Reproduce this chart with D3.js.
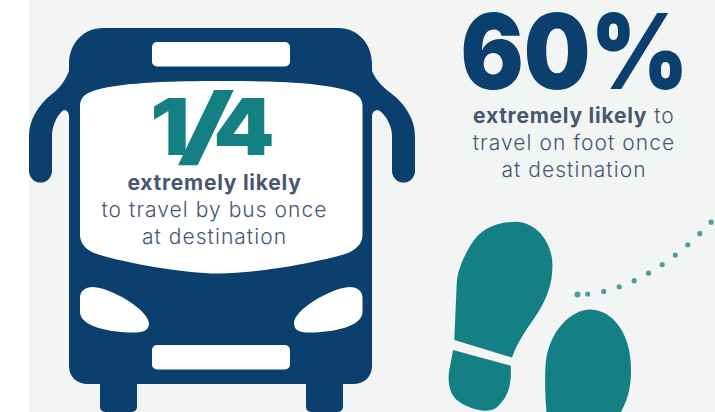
<!DOCTYPE html>
<html>
<head>
<meta charset="utf-8">
<script src="https://cdn.jsdelivr.net/npm/d3@7"></script>
<style>
html,body{margin:0;padding:0;background:#fff;overflow:hidden}
svg{display:block}
text{font-family:Inter,"Open Sans",sans-serif;text-anchor:middle}
</style>
</head>
<body>
<script>
// Survey headline figures
const busLabel = ["1", "/", "4"];
const footLabel = "60%";
const busLines = ["extremely likely", "to travel by bus once", "at destination"];
const footLines = [["extremely likely", " to"], ["", "travel on foot once"], ["", "at destination"]];

const navy = "#0b406e", teal = "#158084", dot = "#4b9c9f", ink = "#465871", panel = "#f3f5f5";

const svg = d3.select("body").append("svg").attr("width", 715).attr("height", 412);
svg.append("rect").attr("x", 29).attr("width", 686).attr("height", 412).attr("fill", panel);

// Bus pictogram
const bus = svg.append("g");
const shape = (d, fill) => bus.append("path").attr("d", d).attr("fill", fill);
const bar = (x, y, w, h, r, fill) => bus.append("rect")
  .attr("x", x).attr("y", y).attr("width", w).attr("height", h).attr("rx", r).attr("fill", fill);

// wheels
bar(100, 370, 37, 42, 5, navy);
bar(306, 370, 37, 42, 5, navy);
// body with mirrors
shape(`M103,28 H338 C358,28 372,44 372,64 V71 C376,81 384,88 392,94 C406,105 415,120 415,136
  V171 A11.5,11.5 0 0 1 392,171 V135 C392,126 385,113 378,110 C374,110 372,113 372,116
  V366 C372,377 364,384 353,384 H88 C77,384 69,377 69,366 V116 C69,113 67,110 64,110
  C58,113 52,126 52,135 V171 A11.5,11.5 0 0 1 29,171 V136 C29,120 38,105 52,94
  C60,88 65,81 69,71 V64 C69,44 83,28 103,28 Z`, navy);
// signs
bar(152, 42, 138, 24.5, 5, "#fff");
bar(152, 345, 138, 24.5, 5, "#fff");
// windscreen
shape(`M80,106 C80,97 86,93 96,90 C125,82 175,81 221,81 C267,81 317,82 346,90 C356,93 362.5,97 362.5,106
  V235 C362.5,244 355,251 345,254 C315,263 255,273.5 218,273.5 C185,273.5 125,263 97,254
  C87,251 80,244 80,235 Z`, "#fff");
// headlights
shape(`M80,298 C80,291 85,287 93,287 C112,288 148,310 149,323 C149,329 145,332.5 136,332.5
  C112,333 80,327 80,312 Z`, "#fff");
shape(`M362.5,298 C362.5,291 357.5,287 349.5,287 C330.5,288 294,310 294,323 C294,329 298,332.5 307,332.5
  C331,333 362.5,327 362.5,312 Z`, "#fff");

// Footprints
const prints = svg.append("g").attr("fill", teal);
prints.append("path").attr("d", `M454.3,340 L456.7,284 C457,272 463,258 470,246 C480,229 495,222 516,221.7
  C535,222 552,240 552.5,265 C552.5,285 546,300 537,314 C525,332 517,343 512,357.5 Z`);
prints.append("path").attr("d", `M453,350 L510.7,365.7 C512,385 508,398 496,408 C485,415 465,406.5 458,401
  C450,395 447.5,383 449,372 Z`);
prints.append("path").attr("d", `M546.5,412 C545,395 544.5,375 546,360 C550,330 572,309.5 590,309.5
  C610,309.5 631,330 631,370 C631,390 627,400 621,412 Z`);

// Dotted walking trail
const gait = d3.path();
gait.moveTo(587.7, 294);
gait.bezierCurveTo(630, 290, 675, 262, 715, 218);
prints.append("path")
  .attr("d", gait.toString())
  .attr("fill", "none").attr("stroke", dot)
  .attr("stroke-width", 5.2).attr("stroke-linecap", "round")
  .attr("stroke-dasharray", "0 16.2");
prints.append("path")
  .attr("d", "M577.5,294.5h0.01")
  .attr("fill", "none").attr("stroke", dot)
  .attr("stroke-width", 6).attr("stroke-linecap", "round");

// Bus figure: each glyph of the fraction is placed and stretched on its own
const fracX = [170, 206, 244], fracY = [155, 155.5, 155], fracSX = [1.12, 1.75, 1.12], fracSY = [1, 0.98, 1];
const frac = svg.append("g").attr("fill", teal);
frac.selectAll("text").data(busLabel).join("text")
  .attr("transform", (d, i) => `translate(${fracX[i]},${fracY[i]}) scale(${fracSX[i]},${fracSY[i]})`)
  .attr("font-size", (d, i) => i === 1 ? 88 : 78)
  .attr("font-weight", (d, i) => i === 1 ? 700 : 900)
  .text(d => d);

svg.selectAll("text.bus").data(busLines).join("text")
  .attr("class", "bus")
  .attr("x", 214.5)
  .attr("y", (d, i) => 190 + i * 27)
  .attr("fill", ink)
  .attr("font-size", 21)
  .attr("letter-spacing", (d, i) => i === 0 ? 0.75 : 1.05)
  .attr("font-weight", (d, i) => i === 0 ? 700 : 300)
  .text(d => d);

// Foot figure
svg.append("text").attr("x", 574.5).attr("y", 89)
  .attr("fill", navy).attr("font-size", 104).attr("font-weight", 900)
  .attr("textLength", 228).attr("lengthAdjust", "spacingAndGlyphs")
  .text(footLabel);

const foot = svg.selectAll("text.foot").data(footLines).join("text")
  .attr("class", "foot")
  .attr("x", 574)
  .attr("y", (d, i) => 123 + i * 27)
  .attr("fill", ink)
  .attr("font-size", 21)
  .attr("letter-spacing", 1.05);
foot.append("tspan").attr("font-weight", 700).attr("letter-spacing", 0.75).text(d => d[0]);
foot.append("tspan").attr("font-weight", 300).text(d => d[1]);
</script>
</body>
</html>
